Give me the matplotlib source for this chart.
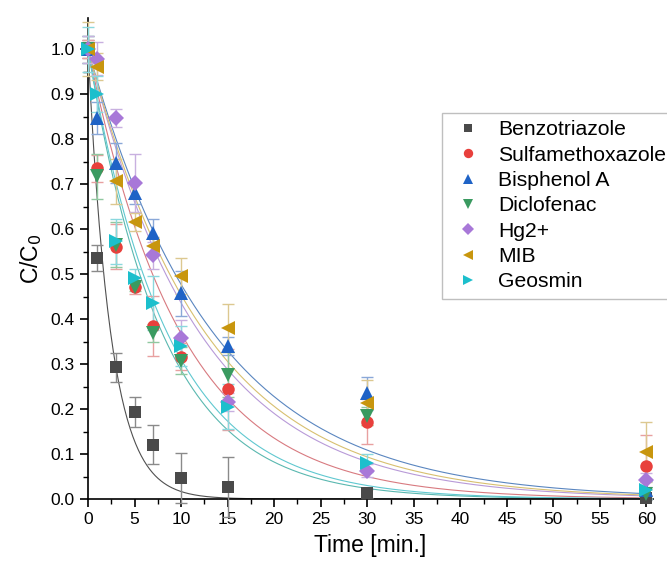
import matplotlib
matplotlib.use("Agg")
import matplotlib.pyplot as plt
import numpy as np

plt.rcParams['font.family'] = ['Liberation Sans', 'DejaVu Sans']

# sampling times [min]
time = [0, 1, 3, 5, 7, 10, 15, 30, 60]

names = ["Benzotriazole", "Sulfamethoxazole", "Bisphenol A", "Diclofenac",
         "Hg2+", "MIB", "Geosmin"]

benzo = [1.0, 0.536, 0.293, 0.194, 0.121, 0.046, 0.027, 0.013, 0.003]
sulfa = [1.0, 0.736, 0.561, 0.472, 0.385, 0.316, 0.244, 0.172, 0.073]
bpa = [1.0, 0.847, 0.747, 0.681, 0.592, 0.458, 0.340, 0.235, 0.020]
diclo = [1.0, 0.718, 0.565, 0.472, 0.369, 0.307, 0.276, 0.184, 0.012]
hg = [1.0, 0.979, 0.847, 0.703, 0.542, 0.357, 0.216, 0.063, 0.042]
mib = [1.0, 0.961, 0.707, 0.616, 0.562, 0.495, 0.380, 0.214, 0.105]
geos = [1.0, 0.900, 0.573, 0.492, 0.436, 0.340, 0.205, 0.080, 0.020]

err_benzo = [0.02, 0.030, 0.032, 0.033, 0.043, 0.056, 0.066, 0.010, 0.005]
err_sulfa = [0.02, 0.030, 0.050, 0.015, 0.067, 0.030, 0.090, 0.050, 0.070]
err_bpa = [0.03, 0.035, 0.045, 0.025, 0.030, 0.050, 0.020, 0.037, 0.020]
err_diclo = [0.03, 0.050, 0.050, 0.010, 0.020, 0.030, 0.050, 0.020, 0.010]
err_hg = [0.03, 0.037, 0.020, 0.065, 0.030, 0.040, 0.020, 0.015, 0.015]
err_mib = [0.06, 0.030, 0.050, 0.020, 0.020, 0.040, 0.053, 0.050, 0.067]
err_geos = [0.05, 0.040, 0.050, 0.020, 0.060, 0.045, 0.050, 0.020, 0.020]

# first-order rate constants of the fitted curves [1/min]
k_fit = [0.41, 0.100, 0.074, 0.125, 0.083, 0.079, 0.117]

series = [benzo, sulfa, bpa, diclo, hg, mib, geos]
errors = [err_benzo, err_sulfa, err_bpa, err_diclo, err_hg, err_mib, err_geos]

markers = ['s', 'o', '^', 'v', 'D', '<', '>']
sizes = [8, 9, 9.5, 9.5, 8, 9.5, 9.5]
colors = ['#4a4a4a', '#e8403c', '#1f63c6', '#3a9a60', '#a878d8', '#c8960e', '#1cbfcc']
err_colors = ['#8a8a8a', '#e8a0a0', '#8aa8d8', '#90c8a0', '#c8b0e0', '#dcc890', '#8ad8de']
line_colors = ['#505050', '#d87a80', '#5a86c0', '#5ab8b0', '#b89ad8', '#d8c070', '#60c8d0']

fig = plt.figure(figsize=(6.67, 5.68), dpi=100)
ax = fig.add_axes([0.132, 0.1215, 0.847, 0.847])

t_fine = np.linspace(0, 60, 400)
for i in range(len(names)):
    ax.plot(t_fine, np.exp(-k_fit[i] * t_fine), color=line_colors[i], lw=0.8, zorder=2)

for i in range(len(names)):
    ax.errorbar(time, series[i], yerr=errors[i], fmt='none', ecolor=err_colors[i],
                elinewidth=1.0, capsize=4, capthick=1.0, zorder=3, clip_on=False)
    ax.plot(time, series[i], linestyle='none', marker=markers[i], ms=sizes[i],
            color=colors[i], markeredgewidth=0, label=names[i], zorder=4, clip_on=False)

ax.set_xlim(0, 60.7)
ax.set_ylim(0, 1.07)
ax.set_xticks(range(0, 61, 5))
ax.set_yticks(np.arange(0, 1.01, 0.1))
ax.set_yticklabels([f"{v:.1f}" for v in np.arange(0, 1.01, 0.1)])
ax.set_xticks(np.arange(2.5, 60, 5), minor=True)
ax.set_yticks(np.arange(0.05, 1.0, 0.1), minor=True)
ax.tick_params(axis='both', which='major', direction='out', length=6, width=1.2,
               labelsize=12.5)
ax.tick_params(axis='both', which='minor', direction='out', length=3.5, width=1.0)

for s in ['top', 'right']:
    ax.spines[s].set_visible(False)
for s in ['left', 'bottom']:
    ax.spines[s].set_linewidth(1.2)

ax.set_xlabel("Time [min.]", fontsize=16.5, labelpad=5)
ax.set_ylabel("C/C$_0$", fontsize=16.5, labelpad=5)

leg = fig.legend(loc='upper left', bbox_to_anchor=(442 / 667, 1 - 113 / 568),
                 borderaxespad=0, fontsize=15.2, frameon=True, fancybox=False,
                 edgecolor='#b0b0b0', handletextpad=0.5, labelspacing=0.3,
                 borderpad=0.35, handlelength=1.8, markerscale=0.75)
leg.get_frame().set_linewidth(1.0)

fig.savefig("out.png", dpi=100)
